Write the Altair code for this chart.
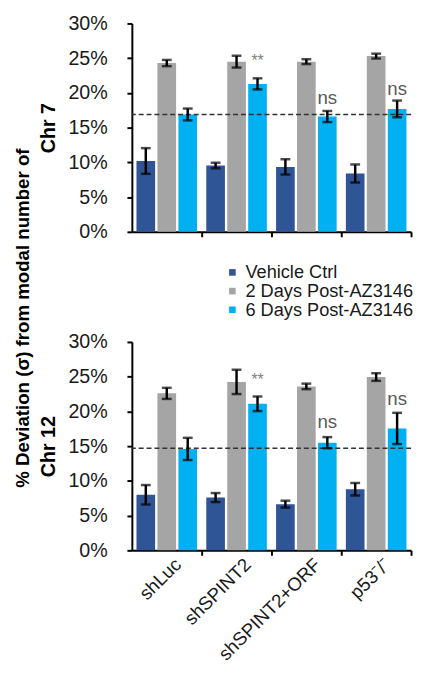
import altair as alt
import pandas as pd

groups = ["shLuc", "shSPINT2", "shSPINT2+ORF", "p53⁻/⁻"]
series = ["Vehicle Ctrl", "2 Days Post-AZ3146", "6 Days Post-AZ3146"]
colors = ["#2F5597", "#A5A5A5", "#00B0F0"]

chr7_vehicle = [10.2, 9.55, 9.35, 8.4]
chr7_vehicle_err = [1.85, 0.4, 1.1, 1.3]
chr7_day2 = [24.3, 24.5, 24.5, 25.3]
chr7_day2_err = [0.45, 0.85, 0.35, 0.35]
chr7_day6 = [16.9, 21.3, 16.6, 17.7]
chr7_day6_err = [0.85, 0.8, 0.8, 1.2]
chr7_ref = 16.9
chr7_marks = ["", "**", "ns", "ns"]
chr7_mark_y = [0, 24.6, 19.3, 20.5]

chr12_vehicle = [8.0, 7.6, 6.65, 8.8]
chr12_vehicle_err = [1.4, 0.65, 0.5, 0.9]
chr12_day2 = [22.6, 24.25, 23.6, 24.95]
chr12_day2_err = [0.8, 1.75, 0.4, 0.55]
chr12_day6 = [14.6, 21.1, 15.5, 17.55]
chr12_day6_err = [1.6, 1.05, 0.8, 2.25]
chr12_ref = 14.7
chr12_marks = ["", "**", "ns", "ns"]
chr12_mark_y = [0, 24.5, 18.45, 21.8]

y_ticks = [0, 5, 10, 15, 20, 25, 30]

W = 284
H = 212
HALF = W / 4 / 2
FONT = "Liberation Sans"


def panel(vals, errs, ref, marks, mark_y, title, show_labels):
    rows = []
    for s, v, e in zip(series, vals, errs):
        for g, vi, ei in zip(groups, v, e):
            rows.append(dict(group=g, series=s, value=vi, lo=vi - ei, hi=vi + ei))
    df = pd.DataFrame(rows)
    ann = pd.DataFrame(
        [dict(group=g, series=series[2], label=m, y=yv)
         for g, m, yv in zip(groups, marks, mark_y) if m]
    )
    xaxis = alt.Axis(
        title=None,
        labels=show_labels,
        labelAngle=-45,
        labelAlign="right",
        labelBaseline="middle",
        labelFontSize=19,
        tickOffset=HALF,
        labelOffset=-HALF + 11,
        labelPadding=6,
    )
    x = alt.X("group:N", sort=groups,
              scale=alt.Scale(paddingInner=0, paddingOuter=0), axis=xaxis)
    xo = alt.XOffset("series:N", sort=series,
                     scale=alt.Scale(paddingInner=0.11, paddingOuter=0.22))
    yscale = alt.Scale(domain=[0, 30], nice=False)
    yaxis = alt.Axis(title=title, values=y_ticks,
                     labelExpr="datum.value + '%'", labelPadding=20,
                     titlePadding=10)

    def Y(field):
        return alt.Y(field, scale=yscale, axis=yaxis)

    bars = alt.Chart(df).mark_bar().encode(
        x=x, xOffset=xo, y=Y("value:Q"),
        color=alt.Color("series:N", sort=series,
                        scale=alt.Scale(domain=series, range=colors),
                        legend=alt.Legend(title=None, orient="none",
                                          legendX=93, legendY=244)),
    )
    refline = alt.Chart(pd.DataFrame({"value": [ref]})).mark_rule(
        color="#333333", strokeDash=[5, 3], strokeWidth=1.5
    ).encode(y=Y("value:Q"))
    rules = alt.Chart(df).mark_rule(color="black", strokeWidth=2.5).encode(
        x=x, xOffset=xo, y=Y("lo:Q"), y2="hi:Q")
    cap_lo = alt.Chart(df).mark_tick(color="black", size=10, thickness=2.5).encode(
        x=x, xOffset=xo, y=Y("lo:Q"))
    cap_hi = alt.Chart(df).mark_tick(color="black", size=10, thickness=2.5).encode(
        x=x, xOffset=xo, y=Y("hi:Q"))
    stars = alt.Chart(ann).transform_filter("datum.label == '**'").mark_text(
        font=FONT, fontSize=16, color="#808080", baseline="middle"
    ).encode(x=x, xOffset=xo, y=Y("y:Q"), text="label:N")
    ns = alt.Chart(ann).transform_filter("datum.label == 'ns'").mark_text(
        font=FONT, fontSize=19, color="#595959", baseline="middle"
    ).encode(x=x, xOffset=xo, y=Y("y:Q"), text="label:N")
    return alt.layer(bars, refline, rules, cap_lo, cap_hi, stars, ns).properties(
        width=W, height=H)


top = panel([chr7_vehicle, chr7_day2, chr7_day6],
            [chr7_vehicle_err, chr7_day2_err, chr7_day6_err],
            chr7_ref, chr7_marks, chr7_mark_y, "Chr 7", False)
bottom = panel([chr12_vehicle, chr12_day2, chr12_day6],
               [chr12_vehicle_err, chr12_day2_err, chr12_day6_err],
               chr12_ref, chr12_marks, chr12_mark_y, "Chr 12", True)

chart = alt.vconcat(top, bottom, spacing=92).properties(
    title=alt.TitleParams(
        "% Deviation (σ) from modal number of",
        orient="left", anchor="middle", font=FONT, fontSize=19,
        fontWeight="bold", color="black", offset=6, dx=21,
    ),
    padding={"left": 5, "top": 0, "right": 0, "bottom": 0},
).configure_view(stroke=None).configure_axis(
    domainColor="black", domainWidth=2, tickColor="black", tickWidth=2,
    tickSize=5, labelFont=FONT, labelFontSize=20, labelColor="#1a1a1a",
    grid=False, titleFont=FONT, titleFontSize=20, titleFontWeight="bold",
    titleColor="black",
).configure_legend(
    labelFont=FONT, labelFontSize=18.5, labelColor="#1a1a1a", labelLimit=0,
    symbolType="square", symbolSize=45, symbolStrokeWidth=0,
    rowPadding=0, labelOffset=4,
)

chart.save("out.html", embed_options={"renderer": "svg", "actions": False})
